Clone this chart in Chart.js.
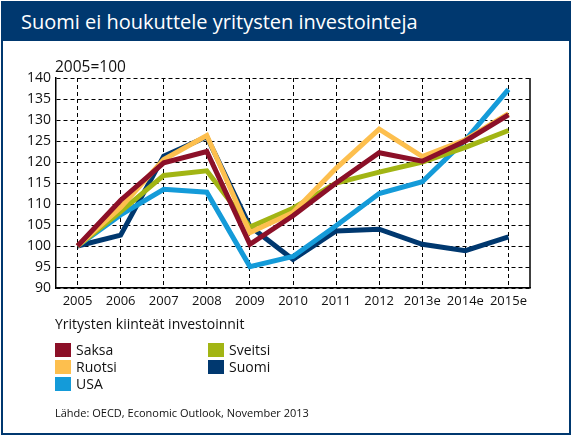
<!DOCTYPE html>
<html lang="fi">
<head>
<meta charset="UTF-8" />
<title>Suomi ei houkuttele yritysten investointeja</title>
<script src="https://cdn.jsdelivr.net/npm/chart.js"></script>
<style>
    body { margin: 0; background: #fff; font-family: "Open Sans", sans-serif; }
    .frame {
        position: absolute; left: 1px; top: 1px; width: 566px; height: 430px;
        border: 2px solid #00386f; background: #fff;
    }
    .title {
        position: absolute; left: 0; top: 0; right: 0; height: 38px;
        background: #00386f; color: #fff; font-size: 20px; line-height: 38px;
        padding-left: 18px;
    }
    .unit { position: absolute; left: 55px; top: 55px; font-size: 15.5px; color: #111; }
    .subtitle { position: absolute; left: 55px; top: 314px; font-size: 14px; color: #111; }
    .legend { position: absolute; left: 55px; top: 342px; width: 320px; }
    .legend .item { position: absolute; font-size: 14px; color: #111; line-height: 16px; }
    .legend .box { display: inline-block; width: 16px; height: 14px; vertical-align: -2px; margin-right: 5px; }
    .source { position: absolute; left: 55px; top: 405px; font-size: 11px; color: #111; }
    #chart { position: absolute; left: 0; top: 0; }
</style>
</head>
<body>
<div class="frame">
    <div class="title">Suomi ei houkuttele yritysten investointeja</div>
</div>
<canvas id="chart" width="573" height="436"></canvas>
<div class="unit">2005=100</div>
<div class="subtitle">Yritysten kiinteät investoinnit</div>
<div class="legend" id="legend"></div>
<div class="source">Lähde: OECD, Economic Outlook, November 2013</div>

<script>
    const years = ['2005', '2006', '2007', '2008', '2009', '2010', '2011', '2012', '2013e', '2014e', '2015e'];

    const saksa   = [100, 110.9, 119.8, 122.5, 100.4, 107.2, 115.0, 122.2, 120.2, 125.0, 131.2];
    const ruotsi  = [100, 109.2, 120.6, 126.3, 103.2, 108.0, 118.5, 127.8, 121.3, 125.3, 131.5];
    const sveitsi = [100, 108.2, 116.8, 117.9, 104.5, 109.0, 115.0, 117.6, 120.0, 123.5, 127.5];
    const usa     = [100, 107.4, 113.5, 112.8, 95.1, 97.5, 104.8, 112.5, 115.3, 125.2, 137.3];
    const suomi   = [100, 102.6, 121.4, 126.0, 104.7, 96.8, 103.6, 104.0, 100.4, 98.9, 102.2];

    const yMin = 90, yMax = 140, yStep = 5;

    // drawing order: first one ends up on top
    const series = [
        { name: 'Saksa',   data: saksa,   color: '#8c1028' },
        { name: 'Ruotsi',  data: ruotsi,  color: '#fdbf4e' },
        { name: 'Sveitsi', data: sveitsi, color: '#a2b514' },
        { name: 'USA',     data: usa,     color: '#149bd9' },
        { name: 'Suomi',   data: suomi,   color: '#00386f' }
    ];

    // legend layout as in the original: two columns
    const legendCols = [['Saksa', 'Ruotsi', 'USA'], ['Sveitsi', 'Suomi']];
    const legend = document.getElementById('legend');
    legendCols.forEach((col, c) => {
        col.forEach((name, r) => {
            const s = series.find(d => d.name === name);
            const el = document.createElement('div');
            el.className = 'item';
            el.style.left = (c * 153) + 'px';
            el.style.top = (r * 17) + 'px';
            el.innerHTML = `<span class="box" style="background:${s.color}"></span>${name}`;
            legend.appendChild(el);
        });
    });

    const rightBorder = {
        id: 'rightBorder',
        afterDraw(chart) {
            const { ctx, chartArea } = chart;
            ctx.save();
            ctx.strokeStyle = '#000';
            ctx.lineWidth = 1.5;
            ctx.beginPath();
            ctx.moveTo(chartArea.right, chartArea.top);
            ctx.lineTo(chartArea.right, chartArea.bottom);
            ctx.stroke();
            ctx.restore();
        }
    };

    new Chart(document.getElementById('chart'), {
        type: 'line',
        data: {
            labels: years,
            datasets: series.map(s => ({
                label: s.name,
                data: s.data,
                borderColor: s.color,
                backgroundColor: s.color,
                borderWidth: 5,
                borderJoinStyle: 'miter',
                pointRadius: 0,
                tension: 0,
                fill: false
            }))
        },
        options: {
            responsive: false,
            animation: false,
            layout: { padding: { left: 0, top: 78, right: 43, bottom: 124 } },
            plugins: { legend: { display: false }, tooltip: { enabled: false } },
            scales: {
                x: {
                    offset: true,
                    grid: { offset: false, color: '#000', lineWidth: 1, drawTicks: false },
                    border: { color: '#000', width: 1.5, dash: [4, 3] },
                    ticks: { color: '#111', font: { family: 'Open Sans', size: 13 }, padding: 5, maxRotation: 0, autoSkip: false },
                    afterFit: scale => { scale.height = 24; }
                },
                y: {
                    min: yMin,
                    max: yMax,
                    ticks: { stepSize: yStep, color: '#111', font: { family: 'Open Sans', size: 14 }, padding: 5 },
                    grid: { color: '#000', lineWidth: 1, drawTicks: false },
                    border: { color: '#000', width: 1.5, dash: [4, 3] },
                    afterFit: scale => { scale.width = 56; }
                }
            }
        },
        plugins: [rightBorder]
    });
</script>
</body>
</html>
